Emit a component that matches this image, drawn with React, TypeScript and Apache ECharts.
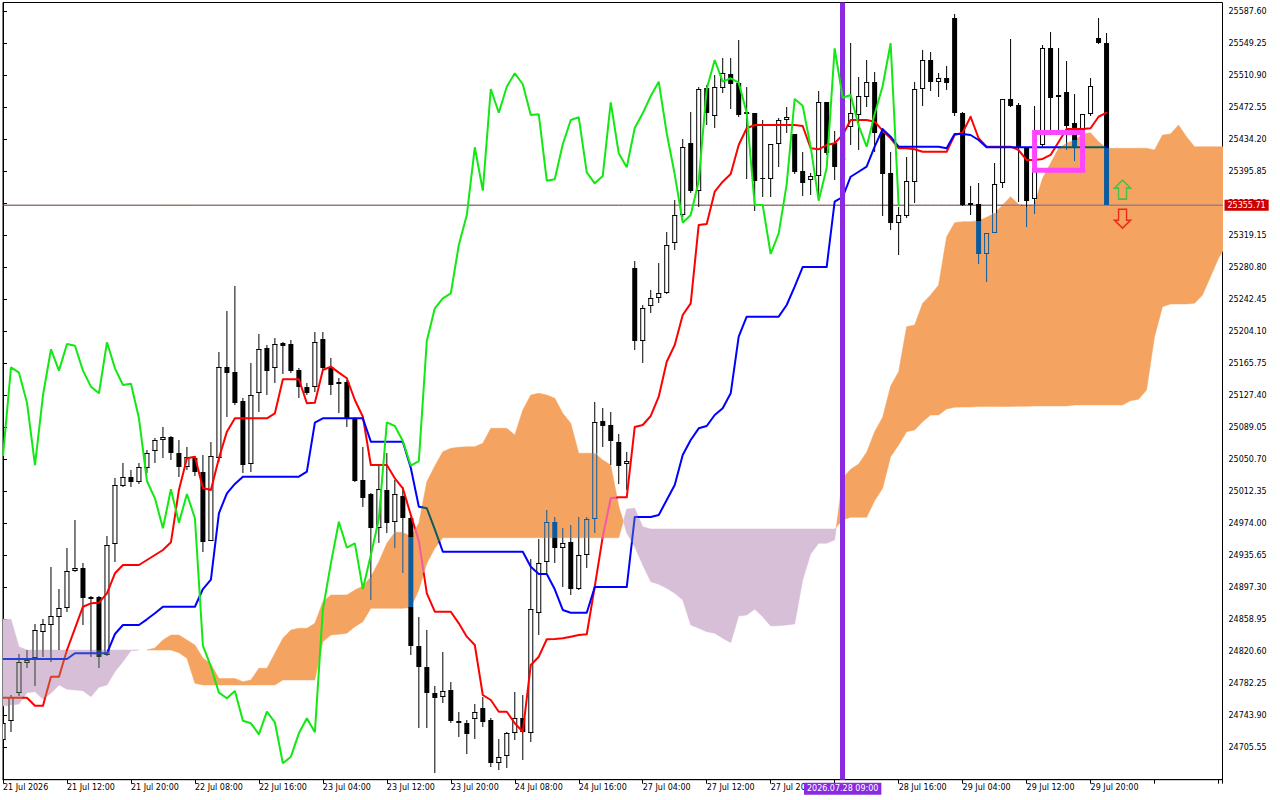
import React, { useEffect, useRef } from 'react';
import * as echarts from 'echarts';

// ---------- data (H1 bars, index 0 = 21 Jul 2026 00:00) ----------
const timeLabels = [
  '21 Jul 2026', '21 Jul 12:00', '21 Jul 20:00', '22 Jul 08:00', '22 Jul 16:00',
  '23 Jul 04:00', '23 Jul 12:00', '23 Jul 20:00', '24 Jul 08:00', '24 Jul 16:00',
  '27 Jul 04:00', '27 Jul 12:00', '27 Jul 20:00', '', '28 Jul 16:00',
  '29 Jul 04:00', '29 Jul 12:00', '29 Jul 20:00',
];

const opens = [
  24714.8, 24737.6, 24770.8, 24807.4, 24812.7, 24844.6, 24852.2, 24862.6, 24872.6, 24917.7,
  24920.6, 24885.8, 24886.5, 24816.6, 24949.3, 25019.5, 25029.6, 25023.6, 25041.1, 25061.1,
  25074.3, 25077.5, 25058.4, 25042.3, 25052.4, 25035.6, 24953.6, 25052.4, 25161.4, 25155.4,
  25121.0, 25045.9, 25130.3, 25184.2, 25160.2, 25190.2, 25189.4, 25158.2, 25138.2, 25138.2,
  25195.0, 25161.4, 25143.5, 25143.5, 25100.3, 25026.4, 25009.6, 24968.5, 25014.4, 24976.4,
  25007.2, 24980.5, 24827.8, 24802.6, 24771.5, 24766.0, 24774.7, 24737.9, 24734.8, 24739.6,
  24752.8, 24738.8, 24687.6, 24696.0, 24723.5, 24740.8, 24722.8, 24866.6, 24927.7, 24976.4,
  24944.5, 24951.7, 24895.7, 24935.9, 24979.6, 25097.1, 25092.3, 25071.9, 25045.2, 25280.1,
  25193.3, 25234.9, 25244.1, 25250.8, 25310.0, 25343.9, 25429.9, 25373.1, 25495.8, 25463.0,
  25496.5, 25512.9, 25501.8, 25467.0, 25465.8, 25387.9, 25387.1, 25428.7, 25457.8, 25441.0,
  25396.7, 25385.9, 25390.7, 25479.0, 25429.9, 25409.9, 25449.8, 25463.8, 25485.7, 25503.7,
  25441.9, 25394.6, 25334.0, 25343.1, 25383.9, 25494.6, 25529.7, 25503.7, 25507.8, 25579.7,
  25466.5, 25358.3, 25357.1, 25296.9, 25322.0, 25381.9, 25483.0, 25475.8, 25423.9, 25362.8,
  25427.8, 25543.7, 25485.0, 25491.0, 25453.8, 25445.8, 25464.6, 25555.7, 25549.7,
];

const highs = [
  24738.8, 24768.7, 24817.5, 24822.6, 24853.4, 24859.4, 24921.8, 24895.7, 24944.5, 24978.4,
  24926.5, 24887.4, 24887.4, 24959.3, 25028.4, 25046.4, 25038.4, 25046.4, 25062.3, 25076.3,
  25089.5, 25079.1, 25074.3, 25065.6, 25055.1, 25056.3, 25072.3, 25180.1, 25229.3, 25258.9,
  25124.3, 25166.2, 25201.3, 25188.2, 25196.2, 25192.1, 25194.1, 25160.2, 25142.3, 25204.1,
  25204.1, 25172.2, 25148.3, 25146.2, 25102.2, 25066.3, 25010.4, 25044.3, 25058.4, 25026.4,
  25018.3, 24982.4, 24861.6, 24846.6, 24779.5, 24819.9, 24783.9, 24748.7, 24738.8, 24757.9,
  24766.7, 24741.2, 24716.0, 24724.7, 24772.7, 24768.7, 24931.7, 24955.7, 24990.4, 24982.4,
  24969.2, 24972.4, 24982.4, 24982.4, 25120.2, 25112.3, 25108.2, 25081.1, 25060.3, 25288.8,
  25236.1, 25254.1, 25286.1, 25323.9, 25361.9, 25435.0, 25467.7, 25497.7, 25499.7, 25511.7,
  25531.7, 25531.7, 25553.7, 25497.7, 25465.8, 25457.8, 25428.7, 25459.8, 25473.0, 25441.0,
  25419.1, 25394.3, 25492.6, 25479.7, 25444.6, 25463.8, 25549.7, 25509.7, 25529.7, 25515.7,
  25447.9, 25419.8, 25353.9, 25413.8, 25503.7, 25541.7, 25539.6, 25514.5, 25522.5, 25584.8,
  25467.7, 25378.7, 25381.9, 25322.0, 25405.9, 25483.0, 25554.9, 25477.8, 25425.8, 25474.9,
  25547.7, 25563.6, 25543.7, 25528.5, 25488.6, 25464.6, 25507.8, 25579.7, 25561.7,
];

const lows = [
  24712.4, 24724.7, 24767.5, 24801.4, 24779.9, 24814.6, 24808.6, 24822.6, 24868.5, 24916.1,
  24852.6, 24814.6, 24800.7, 24815.5, 24928.5, 25018.3, 25018.3, 25021.6, 25034.4, 25046.4,
  25052.4, 25050.3, 25030.3, 25038.4, 25031.2, 24940.1, 24952.7, 25048.3, 25102.2, 25116.3,
  25034.4, 25036.3, 25108.2, 25128.2, 25143.0, 25153.0, 25154.2, 25124.3, 25128.2, 25132.2,
  25158.2, 25128.2, 25106.3, 25090.2, 25024.3, 24994.4, 24882.6, 24950.5, 24962.5, 24944.5,
  24914.6, 24816.6, 24729.2, 24728.8, 24674.9, 24758.8, 24734.8, 24718.7, 24698.0, 24715.6,
  24730.7, 24682.8, 24678.8, 24681.6, 24714.8, 24690.8, 24712.8, 24840.6, 24915.3, 24926.5,
  24898.5, 24888.6, 24894.5, 24921.3, 24963.2, 25065.6, 25044.3, 25021.6, 25014.4, 25182.2,
  25166.2, 25226.9, 25238.8, 25249.3, 25302.0, 25341.9, 25370.7, 25353.9, 25451.8, 25447.9,
  25490.5, 25470.6, 25461.7, 25386.7, 25349.1, 25365.9, 25365.9, 25401.8, 25441.9, 25393.1,
  25367.1, 25367.9, 25365.9, 25415.9, 25385.9, 25397.9, 25427.8, 25421.8, 25473.7, 25419.8,
  25342.8, 25326.0, 25296.0, 25340.0, 25358.0, 25474.6, 25492.6, 25485.7, 25493.7, 25462.6,
  25354.7, 25343.9, 25285.2, 25264.0, 25322.0, 25375.9, 25473.7, 25359.5, 25329.9, 25344.8,
  25425.4, 25439.8, 25445.8, 25421.8, 25409.0, 25409.9, 25462.6, 25548.9, 25355.71,
];

const closes = [
  24735.2, 24766.7, 24807.9, 24810.7, 24846.6, 24853.4, 24863.4, 24872.6, 24917.3, 24920.6,
  24884.6, 24884.1, 24814.6, 24948.5, 25020.4, 25029.6, 25024.3, 25042.3, 25058.4, 25074.3,
  25077.5, 25058.4, 25041.6, 25053.6, 25035.6, 24951.7, 25055.1, 25161.4, 25155.0, 25119.0,
  25044.3, 25127.9, 25183.0, 25157.4, 25189.4, 25187.3, 25157.4, 25138.2, 25130.3, 25191.4,
  25160.2, 25140.2, 25141.8, 25100.3, 25025.2, 25004.4, 24968.5, 25015.2, 24975.2, 25009.6,
  24980.5, 24827.8, 24802.6, 24771.5, 24764.8, 24773.5, 24737.9, 24734.8, 24721.6, 24748.7,
  24736.0, 24686.9, 24694.8, 24722.8, 24740.8, 24724.0, 24871.4, 24926.5, 24976.4, 24945.2,
  24950.5, 24895.7, 24936.5, 24979.6, 25095.5, 25091.1, 25073.1, 25043.5, 25049.1, 25193.3,
  25232.1, 25244.1, 25250.1, 25308.0, 25343.9, 25425.1, 25373.1, 25494.9, 25466.5, 25497.7,
  25513.8, 25500.6, 25463.8, 25464.6, 25385.1, 25386.7, 25428.7, 25457.8, 25461.0, 25395.1,
  25381.9, 25390.7, 25479.0, 25417.9, 25401.1, 25448.2, 25465.8, 25486.6, 25503.7, 25441.9,
  25392.7, 25334.7, 25343.9, 25384.7, 25494.9, 25529.7, 25503.7, 25507.8, 25502.5, 25466.5,
  25355.9, 25355.9, 25297.2, 25322.0, 25380.7, 25483.0, 25474.9, 25425.8, 25361.1, 25400.3,
  25543.7, 25484.5, 25487.8, 25451.0, 25425.8, 25464.6, 25498.5, 25549.7, 25355.71,
];

// Tenkan-sen (red)
const tenkan = [
  24765.5, 24765.5, 24765.5, 24765.5, 24755.9, 24755.9, 24790.6, 24790.6, 24822.6, 24848.6,
  24874.5, 24878.6, 24879.3, 24890.6, 24914.6, 24924.5, 24924.5, 24924.5, 24930.5, 24936.5,
  24942.5, 24951.7, 25014.4, 25052.4, 25054.3, 25016.8, 25014.4, 25052.4, 25084.3, 25100.3,
  25100.3, 25100.3, 25100.3, 25100.3, 25106.3, 25147.1, 25147.1, 25147.1, 25118.3, 25119.0,
  25158.2, 25162.2, 25155.0, 25148.3, 25122.2, 25102.2, 25044.3, 25044.3, 25044.3, 25028.4,
  25016.4, 24984.4, 24953.3, 24890.6, 24868.5, 24868.5, 24868.5, 24854.6, 24838.6, 24828.6,
  24768.7, 24762.7, 24748.7, 24748.7, 24734.8, 24724.7, 24804.7, 24814.6, 24835.5, 24835.8,
  24836.7, 24838.6, 24840.6, 24841.5, 24898.5, 24958.4, 25004.4, 25005.6, 25005.6, 25089.9,
  25092.3, 25103.1, 25126.2, 25168.1, 25188.2, 25224.1, 25238.1, 25332.0, 25333.2, 25371.9,
  25383.9, 25393.1, 25427.8, 25447.9, 25451.8, 25451.8, 25451.8, 25451.8, 25451.8, 25451.8,
  25450.6, 25423.9, 25422.7, 25427.8, 25429.9, 25439.8, 25457.8, 25457.8, 25457.8, 25455.8,
  25445.0, 25435.9, 25423.9, 25423.9, 25422.7, 25419.8, 25419.8, 25419.8, 25419.8, 25439.8,
  25442.6, 25461.7, 25435.9, 25425.8, 25425.8, 25425.8, 25425.8, 25421.8, 25409.9, 25409.9,
  25411.1, 25415.9, 25431.4, 25447.0, 25447.0, 25447.0, 25447.9, 25461.7, 25466.5,
];

// Kijun-sen (blue)
const kijun = [
  24811.9, 24811.9, 24811.9, 24811.9, 24811.9, 24811.9, 24811.9, 24811.9, 24811.9, 24818.7,
  24818.7, 24818.7, 24818.7, 24818.7, 24841.8, 24852.6, 24852.6, 24852.6, 24859.4, 24866.6,
  24874.5, 24874.5, 24874.5, 24874.5, 24874.5, 24895.7, 24906.9, 24986.5, 25010.4, 25021.6,
  25030.3, 25030.3, 25030.3, 25030.3, 25030.3, 25030.3, 25030.3, 25030.3, 25036.3, 25095.0,
  25100.3, 25100.3, 25100.3, 25100.3, 25100.3, 25100.3, 25072.3, 25072.3, 25072.3, 25072.3,
  25072.3, 25040.8, 24994.4, 24992.5, 24967.3, 24940.4, 24940.4, 24940.4, 24940.4, 24940.4,
  24940.4, 24940.4, 24940.4, 24940.4, 24940.4, 24940.4, 24922.5, 24913.7, 24913.7, 24895.4,
  24870.6, 24867.3, 24867.3, 24867.3, 24898.1, 24898.1, 24898.1, 24898.1, 24898.1, 24982.0,
  24982.0, 24982.0, 24984.4, 25002.4, 25020.4, 25056.3, 25074.3, 25088.3, 25091.1, 25104.3,
  25112.3, 25130.3, 25198.1, 25222.1, 25222.1, 25222.1, 25222.1, 25222.1, 25236.1, 25258.0,
  25281.6, 25281.6, 25281.6, 25281.6, 25359.9, 25365.5, 25389.8, 25395.8, 25401.8, 25425.8,
  25446.7, 25437.8, 25425.8, 25425.8, 25425.8, 25425.8, 25425.8, 25425.8, 25423.9, 25441.0,
  25441.0, 25439.8, 25433.8, 25425.1, 25425.1, 25425.1, 25425.1, 25425.1, 25425.1, 25425.1,
  25425.1, 25425.1, 25425.1, 25425.1, 25425.1, 25425.1, 25425.1, 25425.1, 25425.1,
];

// Senkou Span A / B as drawn (already shifted forward 26 bars), index 0..153
const spanA = [
  24755.5, 24756.7, 24757.9, 24771.5, 24772.7, 24763.6, 24770.8, 24780.7, 24775.5, 24774.7,
  24773.9, 24766.7, 24777.9, 24780.7, 24796.6, 24808.6, 24821.8, 24822.6, 24822.6, 24825.0,
  24834.6, 24840.6, 24840.6, 24834.6, 24828.6, 24813.1, 24805.9, 24788.5, 24788.5, 24788.5,
  24784.7, 24786.7, 24800.7, 24800.7, 24818.7, 24836.7, 24846.6, 24848.6, 24848.6, 24854.6,
  24880.5, 24888.6, 24888.6, 24888.6, 24894.5, 24899.3, 24910.5, 24928.5, 24950.5, 24963.7,
  24963.7, 24958.4, 24974.5, 25024.3, 25043.2, 25060.3, 25064.4, 25065.6, 25066.3, 25066.3,
  25070.4, 25088.3, 25088.3, 25088.3, 25080.3, 25110.3, 25128.2, 25130.3, 25128.2, 25124.3,
  25106.3, 25094.3, 25058.4, 25058.4, 25058.4, 25050.3, 25044.3, 24995.2, 24962.9, 24946.4,
  24924.5, 24904.5, 24901.4, 24896.6, 24890.6, 24882.6, 24852.6, 24848.6, 24844.6, 24842.7,
  24836.7, 24831.4, 24863.4, 24864.6, 24871.4, 24862.6, 24851.4, 24851.8, 24852.6, 24853.8,
  24906.5, 24937.7, 24950.5, 24950.5, 24954.5, 25028.8, 25039.2, 25045.5, 25059.6, 25084.3,
  25101.5, 25139.0, 25156.2, 25210.1, 25212.1, 25238.1, 25248.1, 25260.1, 25317.9, 25334.7,
  25335.9, 25335.9, 25337.1, 25341.2, 25346.0, 25355.9, 25365.9, 25356.8, 25353.9, 25357.1,
  25387.9, 25405.9, 25423.9, 25429.9, 25433.8, 25441.0, 25442.6, 25431.8, 25423.9, 25423.9,
  25423.9, 25423.9, 25423.9, 25423.9, 25421.8, 25439.8, 25441.0, 25451.8, 25437.8, 25425.8,
  25425.8, 25425.8, 25425.8, 25425.8,
];

const spanB = [
  24859.4, 24859.4, 24826.6, 24822.6, 24822.6, 24822.6, 24822.6, 24822.6, 24822.6, 24822.6,
  24822.6, 24822.6, 24822.6, 24822.6, 24822.6, 24822.6, 24822.6, 24822.6, 24822.6, 24822.6,
  24822.6, 24822.6, 24819.4, 24812.7, 24782.7, 24780.7, 24780.7, 24780.7, 24780.7, 24780.7,
  24780.7, 24780.7, 24780.7, 24780.7, 24780.7, 24786.7, 24786.7, 24786.7, 24786.7, 24786.7,
  24832.6, 24840.6, 24841.5, 24842.7, 24850.6, 24856.6, 24872.6, 24872.6, 24872.6, 24872.6,
  24872.6, 24873.6, 24894.5, 24926.5, 24944.5, 24957.2, 24957.2, 24957.2, 24957.2, 24957.2,
  24957.2, 24957.2, 24957.2, 24957.2, 24957.2, 24957.2, 24957.2, 24957.2, 24957.2, 24957.2,
  24957.2, 24957.2, 24957.2, 24957.2, 24957.2, 24957.2, 24957.2, 24957.2, 24991.6, 24992.5,
  24970.4, 24967.7, 24967.7, 24967.7, 24967.7, 24967.7, 24967.7, 24967.7, 24967.7, 24967.7,
  24967.7, 24967.7, 24967.7, 24967.7, 24967.7, 24967.7, 24967.7, 24967.7, 24967.7, 24967.7,
  24967.7, 24967.7, 24967.7, 24967.7, 24967.7, 24978.4, 24981.7, 24981.7, 24981.7, 25001.6,
  25016.4, 25054.3, 25068.3, 25084.3, 25086.3, 25096.2, 25104.3, 25104.3, 25111.5, 25113.5,
  25113.9, 25113.9, 25114.3, 25114.3, 25114.3, 25114.5, 25114.5, 25114.7, 25114.7, 25115.1,
  25115.1, 25115.1, 25115.1, 25115.1, 25116.3, 25116.3, 25116.3, 25116.3, 25116.3, 25116.3,
  25116.3, 25121.4, 25123.1, 25134.2, 25198.1, 25234.1, 25237.3, 25237.3, 25237.3, 25238.1,
  25248.1, 25270.0, 25292.1, 25308.0,
];

const chikouShift = 26;
const lastPrice = 25355.71;
const cursorIndex = 105;
const cursorLabel = '2026.07.28 09:00';
const boxCorners = [129, 25442.8, 135, 25397.5];
const arrowUp = [[140, 25374.3]];
const arrowDown = [[140, 25339.5]];

const yMin = 24667.2;
const yStep = 38.35;
const yMax = 25598.6;
const xMax = 152.5;
const labelEvery = 8;

// ---------- styling ----------
const FONT = 'DejaVu Sans';
const ORANGE = '#f4a460';
const THISTLE = '#d8bfd8';
const RED = '#ff0000';
const BLUE = '#0000ff';
const GREEN = '#12e812';
const PRICE_LINE = '#6e3030';
const VIOLET = '#8a2be2';
const BOX = '#ff45ff';

// MT5 paints the cloud in XOR mode: what lies beneath it changes colour.
function xorWith(color: string, cloud: string): string {
  const c = parseInt(color.slice(1), 16);
  const key = 0xffffff ^ parseInt(cloud.slice(1), 16);
  return '#' + ((c ^ key) >>> 0).toString(16).padStart(6, '0');
}

function cloudAt(x: number) {
  const last = spanA.length - 1;
  const i = Math.max(0, Math.min(last, Math.floor(x)));
  const j = Math.min(last, i + 1);
  const t = x - i;
  return {
    a: spanA[i] + (spanA[j] - spanA[i]) * t,
    b: spanB[i] + (spanB[j] - spanB[i]) * t,
  };
}

function tintAt(color: string, x: number, v: number): string {
  const { a, b } = cloudAt(x);
  if (a === b) return color;
  if (v < Math.min(a, b) || v > Math.max(a, b)) return color;
  return xorWith(color, a > b ? ORANGE : THISTLE);
}

type Run = { color: string; pts: number[][] };

function colorRuns(pts: number[][], color: string): Run[] {
  const runs: Run[] = [];
  let cur: Run | null = null;
  for (let k = 0; k < pts.length - 1; k++) {
    const [x0, v0] = pts[k];
    const [x1, v1] = pts[k + 1];
    const c0 = cloudAt(x0);
    const c1 = cloudAt(x1);
    const ts = [0, 1];
    const root = (d0: number, d1: number) => {
      if ((d0 < 0 && d1 > 0) || (d0 > 0 && d1 < 0)) ts.push(d0 / (d0 - d1));
    };
    root(v0 - c0.a, v1 - c1.a);
    root(v0 - c0.b, v1 - c1.b);
    root(c0.a - c0.b, c1.a - c1.b);
    ts.sort((p, q) => p - q);
    for (let m = 0; m < ts.length - 1; m++) {
      const ta = ts[m];
      const tb = ts[m + 1];
      if (tb - ta < 1e-9) continue;
      const tm = (ta + tb) / 2;
      const col = tintAt(color, x0 + (x1 - x0) * tm, v0 + (v1 - v0) * tm);
      const pa = [x0 + (x1 - x0) * ta, v0 + (v1 - v0) * ta];
      const pb = [x0 + (x1 - x0) * tb, v0 + (v1 - v0) * tb];
      if (!cur || cur.color !== col) {
        cur = { color: col, pts: [pa] };
        runs.push(cur);
      }
      cur.pts.push(pb);
    }
  }
  return runs;
}

// Cloud regions: consecutive stretches with the same sign of (A - B) become one polygon.
type CloudRun = { color: string; as: number[][]; bs: number[][]; endX: number };

function cloudRuns(): CloudRun[] {
  const runs: CloudRun[] = [];
  let cur: CloudRun | null = null;
  const add = (x0: number, x1: number, a0: number, a1: number, b0: number, b1: number, color: string) => {
    if (!cur || cur.color !== color || Math.abs(cur.endX - x0) > 1e-9) {
      cur = { color, as: [[x0, a0]], bs: [[x0, b0]], endX: x0 };
      runs.push(cur);
    }
    cur.as.push([x1, a1]);
    cur.bs.push([x1, b1]);
    cur.endX = x1;
  };
  for (let i = 0; i < spanA.length - 1; i++) {
    const a0 = spanA[i], a1 = spanA[i + 1], b0 = spanB[i], b1 = spanB[i + 1];
    const d0 = a0 - b0, d1 = a1 - b1;
    const col = (d: number) => (d > 0 ? ORANGE : THISTLE);
    if (d0 * d1 < 0) {
      const t = d0 / (d0 - d1);
      const xc = i + t, vc = a0 + (a1 - a0) * t;
      add(i, xc, a0, vc, b0, vc, col(d0));
      add(xc, i + 1, vc, a1, vc, b1, col(d1));
    } else {
      const d = d0 !== 0 ? d0 : d1;
      if (d !== 0) add(i, i + 1, a0, a1, b0, b1, col(d));
      else cur = null;
    }
  }
  return runs;
}

function runSeries(pts: number[][], color: string, width: number, z: number) {
  const runs = colorRuns(pts, color);
  return {
    type: 'custom',
    coordinateSystem: 'cartesian2d',
    clip: true,
    silent: true,
    z,
    data: [[pts[0][0], pts[0][1]]],
    encode: { x: 0, y: 1 },
    renderItem: (_params: any, api: any) => ({
      type: 'group',
      children: runs.map((r) => ({
        type: 'polyline',
        shape: { points: r.pts.map((p) => api.coord(p)) },
        style: { stroke: r.color, lineWidth: width, fill: 'none', lineJoin: 'round', lineCap: 'round' },
      })),
    }),
  };
}

function buildOption() {
  const candleData = opens.map((o, i) => [i, o, closes[i], lows[i], highs[i]]);
  const chikouData = closes.slice(chikouShift).map((v, i) => [i, v]);
  const tenkanPts = tenkan.map((v, i) => [i, v]);
  const kijunPts = kijun.map((v, i) => [i, v]);
  const pricePts: number[][] = [];
  for (let i = 0; i <= Math.floor(xMax); i++) pricePts.push([i, lastPrice]);
  pricePts.push([xMax, lastPrice]);
  const regions = cloudRuns();

  const cloudSeries = {
    type: 'custom',
    coordinateSystem: 'cartesian2d',
    clip: true,
    silent: true,
    z: 1,
    data: [[0, spanA[0], spanB[0]]],
    encode: { x: 0, y: [1, 2] },
    renderItem: (_params: any, api: any) => ({
      type: 'group',
      children: regions.map((r) => ({
        type: 'polygon',
        shape: { points: r.as.concat(r.bs.slice().reverse()).map((p) => api.coord(p)) },
        style: { fill: r.color, stroke: r.color, lineWidth: 0.5 },
      })),
    }),
  };

  const candleSeries = {
    type: 'custom',
    coordinateSystem: 'cartesian2d',
    clip: true,
    silent: true,
    z: 3,
    data: candleData,
    encode: { x: 0, y: [1, 2, 3, 4] },
    renderItem: (_params: any, api: any) => {
      const i = api.value(0);
      const o = api.value(1), c = api.value(2), l = api.value(3), h = api.value(4);
      const cx = api.coord([i, o])[0];
      const ys = (v: number) => Math.round(api.coord([i, v])[1]);
      const { a, b } = cloudAt(i);
      const cTop = Math.max(a, b), cBot = Math.min(a, b);
      const key = a > b ? ORANGE : a < b ? THISTLE : null;
      const pieces = (lo: number, hi: number) => {
        if (!key || hi <= cBot || lo >= cTop) return [{ lo, hi, inside: false }];
        const res: { lo: number; hi: number; inside: boolean }[] = [];
        if (lo < cBot) res.push({ lo, hi: cBot, inside: false });
        res.push({ lo: Math.max(lo, cBot), hi: Math.min(hi, cTop), inside: true });
        if (hi > cTop) res.push({ lo: cTop, hi, inside: false });
        return res;
      };
      const ink = (inside: boolean) => (inside && key ? xorWith('#000000', key) : '#000000');
      const children: any[] = [];
      const bodyTop = Math.max(o, c), bodyBot = Math.min(o, c);
      const wick = (lo: number, hi: number) =>
        pieces(lo, hi).forEach((p) => {
          children.push({
            type: 'line',
            shape: { x1: cx, y1: ys(p.hi), x2: cx, y2: ys(p.lo) },
            style: { stroke: ink(p.inside), lineWidth: 1 },
          });
        });
      if (h > bodyTop) wick(bodyTop, h);
      if (l < bodyBot) wick(l, bodyBot);
      if (c < o) {
        pieces(bodyBot, bodyTop).forEach((p) => {
          const y1 = ys(p.hi), y2 = ys(p.lo);
          children.push({
            type: 'rect',
            shape: { x: cx - 2.5, y: y1, width: 5, height: Math.max(1, y2 - y1) },
            style: { fill: ink(p.inside) },
          });
        });
      } else {
        pieces(bodyBot, bodyTop).forEach((p) => {
          const y1 = ys(p.hi), y2 = ys(p.lo);
          if (!p.inside && y2 > y1) {
            children.push({ type: 'rect', shape: { x: cx - 2, y: y1, width: 4, height: y2 - y1 }, style: { fill: '#ffffff' } });
          }
          if (y2 > y1) {
            children.push({ type: 'line', shape: { x1: cx - 2, y1, x2: cx - 2, y2 }, style: { stroke: ink(p.inside), lineWidth: 1 } });
            children.push({ type: 'line', shape: { x1: cx + 2, y1, x2: cx + 2, y2 }, style: { stroke: ink(p.inside), lineWidth: 1 } });
          }
        });
        const edge = (v: number, y: number) => {
          const inside = !!key && v >= cBot && v <= cTop;
          children.push({
            type: 'line',
            shape: { x1: cx - 2.5, y1: y, x2: cx + 2.5, y2: y },
            style: { stroke: ink(inside), lineWidth: 1 },
          });
        };
        const yT = ys(bodyTop), yB = ys(bodyBot);
        edge(bodyTop, yT + 0.5);
        edge(bodyBot, Math.max(yT + 0.5, yB - 0.5));
      }
      return { type: 'group', children };
    },
  };

  const chikouSeries = {
    type: 'line',
    data: chikouData,
    symbol: 'none',
    silent: true,
    z: 5,
    clip: true,
    lineStyle: { color: GREEN, width: 2 },
  };

  const boxSeries = {
    type: 'custom',
    coordinateSystem: 'cartesian2d',
    clip: false,
    silent: true,
    z: 6,
    data: [boxCorners],
    encode: { x: [0, 2], y: [1, 3] },
    renderItem: (_params: any, api: any) => {
      const p1 = api.coord([api.value(0), api.value(1)]);
      const p2 = api.coord([api.value(2), api.value(3)]);
      return {
        type: 'rect',
        shape: { x: p1[0], y: p1[1], width: p2[0] - p1[0], height: p2[1] - p1[1] },
        style: { fill: 'none', stroke: BOX, lineWidth: 5 },
      };
    },
  };

  const markerSeries = {
    type: 'line',
    data: [[cursorIndex, lastPrice]],
    symbol: 'none',
    silent: true,
    clip: false,
    z: 7,
    lineStyle: { opacity: 0 },
    markLine: {
      silent: true,
      symbol: 'none',
      animation: false,
      data: [
        {
          xAxis: cursorIndex,
          lineStyle: { color: VIOLET, width: 5, type: 'solid' },
          label: {
            show: true,
            position: 'start',
            formatter: cursorLabel,
            color: '#ffffff',
            backgroundColor: VIOLET,
            padding: [2, 3, 2, 3],
            fontSize: 8,
            fontFamily: FONT,
            distance: 3,
          },
        },
        {
          yAxis: lastPrice,
          lineStyle: { color: 'rgba(0,0,0,0)', width: 1, type: 'solid' },
          label: {
            show: true,
            position: 'end',
            formatter: lastPrice.toFixed(2),
            color: '#ffffff',
            backgroundColor: '#cc0000',
            padding: [2, 3, 1, 3],
            fontSize: 8,
            fontFamily: FONT,
            distance: 2,
          },
        },
      ],
    },
  };

  const arrowUpSeries = {
    type: 'scatter',
    data: arrowUp,
    silent: true,
    z: 6,
    symbol: 'path://M8,0 L16,8 L12,8 L12,19 L4,19 L4,8 L0,8 Z',
    symbolSize: [16, 19],
    itemStyle: { color: 'rgba(0,0,0,0)', borderColor: '#46c046', borderWidth: 1.5, opacity: 1 },
  };

  const arrowDownSeries = {
    type: 'scatter',
    data: arrowDown,
    silent: true,
    z: 6,
    symbol: 'path://M4,0 L12,0 L12,11 L16,11 L8,19 L0,11 L4,11 Z',
    symbolSize: [16, 19],
    itemStyle: { color: 'rgba(0,0,0,0)', borderColor: '#f02818', borderWidth: 1.5, opacity: 1 },
  };

  return {
    animation: false,
    backgroundColor: '#ffffff',
    textStyle: { fontFamily: FONT },
    grid: {
      left: 2.5,
      top: 2.5,
      width: 1220,
      height: 777.2,
      show: true,
      borderColor: '#000000',
      borderWidth: 1,
      backgroundColor: '#ffffff',
    },
    xAxis: {
      type: 'value',
      min: 0,
      max: xMax,
      interval: labelEvery,
      position: 'bottom',
      axisLine: { show: true, lineStyle: { color: '#000000', width: 1 } },
      axisTick: { show: true, length: 4, lineStyle: { color: '#000000' } },
      splitLine: { show: false },
      axisLabel: {
        formatter: (v: number) => {
          const k = v / labelEvery;
          const r = Math.round(k);
          return Math.abs(k - r) < 1e-6 && timeLabels[r] ? timeLabels[r] : '';
        },
        align: 'left',
        color: '#000000',
        fontSize: 8,
        fontFamily: FONT,
        margin: 4,
        hideOverlap: false,
      },
    },
    yAxis: {
      type: 'value',
      position: 'right',
      min: yMin,
      max: yMax,
      interval: yStep,
      axisLine: { show: true, lineStyle: { color: '#000000', width: 1 } },
      axisTick: { show: true, length: 4, lineStyle: { color: '#000000' } },
      splitLine: { show: false },
      axisLabel: {
        formatter: (v: number) => {
          const k = (v - yMin) / yStep;
          return Math.abs(k - Math.round(k)) < 1e-6 && k > 0.5 ? v.toFixed(2) : '';
        },
        color: '#000000',
        fontSize: 8,
        fontFamily: FONT,
        margin: 6,
        showMinLabel: false,
      },
    },
    series: [
      cloudSeries,
      runSeries(pricePts, PRICE_LINE, 1, 2),
      candleSeries,
      runSeries(tenkanPts, RED, 2, 4),
      runSeries(kijunPts, BLUE, 2, 4),
      chikouSeries,
      boxSeries,
      markerSeries,
      arrowUpSeries,
      arrowDownSeries,
    ],
  };
}

export default function App() {
  const ref = useRef<HTMLDivElement>(null);
  useEffect(() => {
    if (!ref.current) return;
    const chart = echarts.init(ref.current, null, { renderer: 'svg' });
    chart.setOption(buildOption() as any);
    return () => chart.dispose();
  }, []);
  return (
    <div
      ref={ref}
      style={{ position: 'fixed', left: 0, top: 0, width: 1280, height: 800, background: '#ffffff' }}
    />
  );
}
